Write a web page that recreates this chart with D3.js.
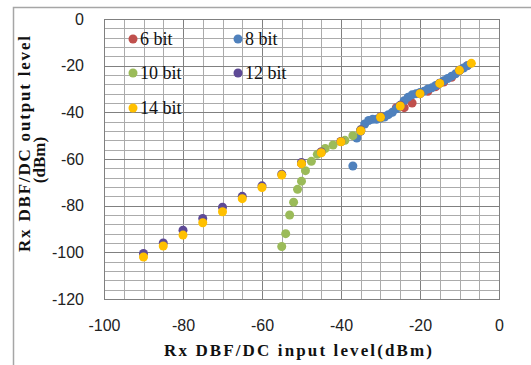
<!DOCTYPE html>
<html>
<head>
<meta charset="utf-8">
<script src="https://cdn.jsdelivr.net/npm/d3@7"></script>
<style>
  body { margin: 0; background: #fff; }
  svg { display: block; }
</style>
</head>
<body>
<div id="chart"></div>
<script>
// series names
const seriesNames = ['6 bit', '8 bit', '10 bit', '12 bit', '14 bit'];
const seriesColors = ['#C0504D', '#4F81BD', '#9BBB59', '#5E4A96', '#FFC000'];

// input levels (dBm) and output levels (dBm) for each series
const in6 = [-50, -45, -40, -35, -30, -26, -24, -22, -20, -18, -16, -14, -12, -10, -8];
const out6 = [-62, -57, -52.5, -48, -42, -38, -38, -36, -32, -31, -29, -27, -25, -22, -20];

const in8 = [-37, -36, -35, -34, -33, -32, -31, -30, -29, -28, -27, -26, -25, -24, -23, -22, -21, -20, -19, -18, -17, -16, -15, -14, -13, -12, -11, -10, -9, -8];
const out8 = [-63, -51, -48, -45, -43.5, -43, -43, -42.5, -42, -41, -40, -38.5, -37, -35, -33.5, -32.5, -32, -31.5, -31, -30, -29.5, -28.5, -27.5, -26.5, -25.5, -24.5, -23.5, -22, -21, -20];

const in10 = [-55, -54, -53, -52, -51, -50, -49, -47.5, -46, -44, -42, -39, -37, -35];
const out10 = [-97.5, -92, -84, -78.5, -73, -69.5, -65, -61, -58, -55.5, -54, -52, -50, -47.5];

const in12 = [-90, -85, -80, -75, -70, -65, -60, -55, -50, -45, -40, -35, -30, -25, -20, -15, -10];
const out12 = [-100.5, -96, -90.5, -85.5, -80.7, -76, -71.5, -66.5, -61.5, -57, -52.5, -47.5, -42, -37, -32, -27.5, -22];

const in14 = [-90, -85, -80, -75, -70, -65, -60, -55, -50, -45, -40, -35, -30, -25, -20, -15, -10, -7];
const out14 = [-102, -97.3, -92.6, -87.3, -82.6, -77, -72.2, -66.9, -62, -57.3, -52.6, -47.9, -42.1, -37.3, -32, -27.6, -22, -19];

const xTicks = [-100, -80, -60, -40, -20, 0];
const yTicks = [0, -20, -40, -60, -80, -100, -120];

const seriesIn = [in6, in8, in10, in12, in14];
const seriesOut = [out6, out8, out10, out12, out14];

const W = 531, H = 365;
const plot = { left: 104, right: 499, top: 19, bottom: 299 };
const serif = '"Liberation Serif", "Times New Roman", serif';

const svg = d3.select('#chart').append('svg')
  .attr('width', W)
  .attr('height', H);

// outer chart border (right and bottom edges fall outside the picture)
svg.append('rect')
  .attr('x', 13.5).attr('y', 7.5)
  .attr('width', W + 10).attr('height', H + 10)
  .attr('fill', '#fff')
  .attr('stroke', '#a6a6a6')
  .attr('stroke-width', 1.5);

const x = d3.scaleLinear().domain([-100, 0]).range([plot.left, plot.right]);
const y = d3.scaleLinear().domain([-120, 0]).range([plot.bottom, plot.top]);

// gridlines: minor every 5 on x, every 4 on y; major every 20
const grid = svg.append('g');
grid.selectAll('line.vx')
  .data(d3.range(-100, 0.1, 5))
  .enter().append('line')
    .attr('x1', d => Math.round(x(d)) + 0.5).attr('x2', d => Math.round(x(d)) + 0.5)
    .attr('y1', plot.top).attr('y2', plot.bottom)
    .attr('stroke', d => d % 20 === 0 ? '#808080' : '#ababab');
grid.selectAll('line.hy')
  .data(d3.range(-120, 0.1, 4))
  .enter().append('line')
    .attr('y1', d => Math.round(y(d)) + 0.5).attr('y2', d => Math.round(y(d)) + 0.5)
    .attr('x1', plot.left).attr('x2', plot.right)
    .attr('stroke', d => d % 20 === 0 ? '#808080' : '#ababab');

svg.append('rect')
  .attr('x', plot.left + 0.5).attr('y', plot.top + 0.5)
  .attr('width', plot.right - plot.left).attr('height', plot.bottom - plot.top)
  .attr('fill', 'none')
  .attr('stroke', '#808080');

// axes (labels only)
const fmt = d => String(d);
const xAxis = svg.append('g')
  .attr('transform', `translate(0,${plot.bottom + 21})`)
  .call(d3.axisBottom(x).tickValues(xTicks).tickFormat(fmt).tickSize(0).tickPadding(0));
const yAxis = svg.append('g')
  .attr('transform', `translate(${plot.left - 20},0)`)
  .call(d3.axisLeft(y).tickValues(yTicks).tickFormat(fmt).tickSize(0).tickPadding(0));
[xAxis, yAxis].forEach(a => {
  a.select('.domain').remove();
  a.selectAll('text')
    .style('font-family', '"Liberation Sans", Arial, sans-serif')
    .style('font-size', '16px')
    .attr('fill', '#222');
});

// markers
seriesIn.forEach((xs, si) => {
  svg.append('g').selectAll('circle')
    .data(xs.map((v, i) => [v, seriesOut[si][i]]))
    .enter().append('circle')
      .attr('cx', d => x(d[0]))
      .attr('cy', d => y(d[1]))
      .attr('r', 4.5)
      .attr('fill', seriesColors[si]);
});

// legend
const legendPos = [[133, 39], [238, 39], [133, 73], [238, 73], [133, 108]];
const legend = svg.append('g');
seriesNames.forEach((name, i) => {
  const [lx, ly] = legendPos[i];
  legend.append('circle')
    .attr('cx', lx).attr('cy', ly).attr('r', 4.5)
    .attr('fill', seriesColors[i]);
  legend.append('text')
    .attr('x', lx + 7).attr('y', ly + 6)
    .style('font-family', serif)
    .style('font-size', '18px')
    .attr('fill', '#111')
    .text(name);
});

// axis titles
svg.append('text')
  .attr('x', 298).attr('y', 356)
  .attr('text-anchor', 'middle')
  .attr('textLength', 268)
  .style('font-family', serif)
  .style('font-size', '17px')
  .style('font-weight', 'bold')
  .attr('fill', '#111')
  .text('Rx DBF/DC input level(dBm)');

const yTitle = svg.append('text')
  .attr('transform', 'translate(30,144) rotate(-90)')
  .attr('text-anchor', 'middle')
  .style('font-family', serif)
  .style('font-size', '17px')
  .style('font-weight', 'bold')
  .attr('fill', '#111');
yTitle.append('tspan').attr('x', 0).attr('y', 0).attr('textLength', 216).text('Rx DBF/DC output level');
yTitle.append('tspan').attr('x', -16).attr('y', 15).text('(dBm)');
</script>
</body>
</html>
